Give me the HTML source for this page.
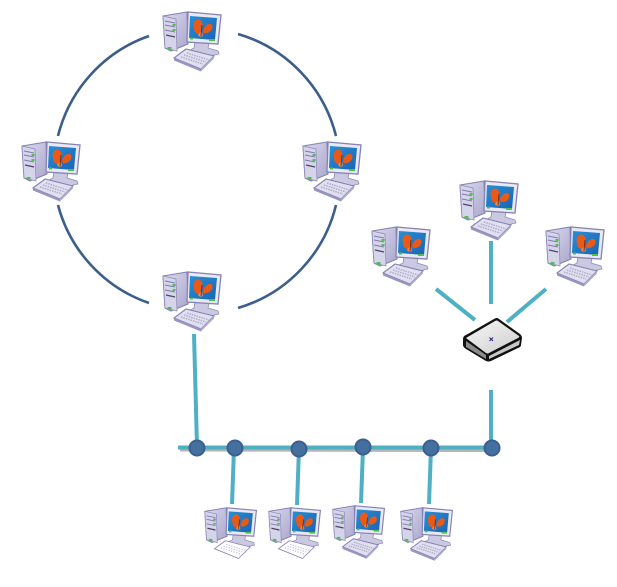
<!DOCTYPE html>
<html><head><meta charset="utf-8"><style>html,body{margin:0;padding:0;background:#fff}svg{display:block}</style></head><body>
<svg width="617" height="587" viewBox="0 0 617 587" xmlns="http://www.w3.org/2000/svg">
<defs>
<filter id="s" x="-5%" y="-5%" width="110%" height="110%"><feGaussianBlur stdDeviation=".35"/></filter>
<linearGradient id="tw" x1="0" y1="0" x2="1" y2="1"><stop offset="0" stop-color="#dcdaee"/><stop offset="1" stop-color="#a9a6cc"/></linearGradient>
<linearGradient id="sc" x1="0" y1="0" x2="1" y2="1"><stop offset="0" stop-color="#2a8fd6"/><stop offset="1" stop-color="#1a64b4"/></linearGradient>
<linearGradient id="rt" x1="0" y1="0" x2="1" y2="1"><stop offset="0" stop-color="#f6f6f6"/><stop offset="1" stop-color="#cfcfcf"/></linearGradient>
<g id="base">
<path d="M2 6 L26 2 L27 34 L10 41 L4 38 Z" fill="url(#tw)" stroke="#8582b2" stroke-width="1.1"/>
<path d="M2 6 L15 9 L16 41 L4 38 Z" fill="#d6d4ea" stroke="#8f8cb8" stroke-width=".8"/>
<path d="M4 11 L14 13 M4 15 L14 17 M4 20 L14 22" stroke="#7d7ba8" stroke-width="1"/>
<path d="M5 25 L14 27" stroke="#4a4866" stroke-width="1.4"/>
<rect x="6.500" y="37" width="4" height="2.500" fill="#4fc04f"/>
<rect x="11.500" y="14" width="3" height="2" fill="#4fc04f"/>
<rect x="11.500" y="19" width="3" height="2" fill="#4fc04f"/>
<path d="M34 32 L33 38 L27 41 L44 47 L58 44 L57 41 L47 38 L48 33 Z" fill="#cbc9e2" stroke="#8f8cb8" stroke-width=".8"/>
<path d="M27 2 L60 5 L57 34 L26 32 Z" fill="#e9e8f5" stroke="#8583b2" stroke-width="1.3"/>
<path d="M29 6 L56 8 L54 30 L28 28 Z" fill="url(#sc)"/>
<path d="M41 22 C37 26 33 23 33 18 C31 12 36 8 39 10 C42 12 42 16 41 19 Z" fill="#ea5a18"/>
<path d="M42 21 C43 15 49 12 51 15 C53 19 48 24 43 23 Z" fill="#ea5a18"/>
<path d="M37 25 C38 23 40 22 41 21 L42 26 C40 27 38 27 37 25 Z" fill="#f08a4a"/>
<path d="M41 15 L40 26" stroke="#7d2c10" stroke-width="1"/>
<rect x="29" y="27.500" width="3" height="2" fill="#4fc04f"/><rect x="48" y="29" width="6" height="2" fill="#4fc04f"/>
</g>
<g id="pc">
<use href="#base"/>
<path d="M13 48 L25 39 L53 46 L40 59 Z" fill="#e2e0f0" stroke="#8582b2" stroke-width="1.1"/>
<path d="M13 48 L40 59 L40 61.500 L13 50.500 Z" fill="#9895c0"/>
<path d="M53 46 L40 59 L40 61.500 L53 48.500 Z" fill="#b0aed0"/>
<path d="M20 47 L42 54 M23 45 L45 52 M26 43 L48 50" stroke="#aeacca" stroke-width="1.5" stroke-dasharray="1.5 1"/>
</g>
<g id="pc2">
<use href="#base"/>
<path d="M13 48 L25 39 L53 46 L40 59 Z" fill="#fff" stroke="#8f8cb8" stroke-width="1"/>
<path d="M20 47 L42 54 M23 45 L45 52 M26 43 L48 50" stroke="#c6c4dc" stroke-width="1.3" stroke-dasharray="1.5 1.5"/>
</g>
</defs>

<g fill="none" stroke="#3b5e8c" stroke-width="2.6">
<path d="M149 36 A142 142 0 0 0 58 136"/>
<path d="M238 34 A142 142 0 0 1 336 136"/>
<path d="M58 205 A142 142 0 0 0 149 303"/>
<path d="M336 205 A142 142 0 0 1 238 308"/>
</g>

<path d="M180 449.500 L491 450" stroke="#b5b5b5" stroke-width="4" fill="none"/>
<g fill="none" stroke="#4fb0c4" stroke-width="4">
<path d="M178 447.500 L491 447.500"/>
<path d="M194 334 L197 447"/>
<path d="M491 390 L491 447"/>
<path d="M491 241 L491 304"/>
<path d="M436 289 L475 320"/>
<path d="M546 289 L507 322"/>
<path d="M234 448 L232 504"/>
<path d="M299 448 L297 505"/>
<path d="M363 448 L361 503"/>
<path d="M431 448 L429 504"/>
</g>
<g fill="#44709f" stroke="#3a5f90" stroke-width="2">
<circle cx="197" cy="448" r="7.500"/><circle cx="235" cy="448" r="7.500"/><circle cx="299" cy="449" r="7.500"/><circle cx="363" cy="447" r="7.500"/><circle cx="431" cy="448" r="7.500"/><circle cx="492" cy="448" r="7.500"/>
</g>

<g filter="url(#s)">
<use href="#pc" x="161" y="10"/>
<use href="#pc" x="20" y="140"/>
<use href="#pc" x="301" y="140"/>
<use href="#pc" x="161" y="270"/>
<use href="#pc" x="370" y="225"/>
<use href="#pc" x="458" y="179"/>
<use href="#pc" x="544" y="225"/>
<use href="#pc2" transform="translate(203 506) scale(.89)"/>
<use href="#pc2" transform="translate(267 506) scale(.89)"/>
<use href="#pc" transform="translate(331 504) scale(.89)"/>
<use href="#pc" transform="translate(399 506) scale(.89)"/>
</g>

<path d="M463 339 Q463 336 466 335 L494 319 Q497 317 499 319 L520 334 Q522 336 522 338 L521 345 Q521 347 518 348 L491 361 Q488 362 486 361 L466 349 Q463 347 463 345 Z" fill="#111"/>
<path d="M466 338 L495 321 Q497 320 498 321 L519 336 Q520 337 518 338 L489 353 Q488 354 486 353 Z" fill="url(#rt)"/>
<path d="M466 341 L486 355 L486 359 L466 347 Z" fill="#8a8a8a"/>
<path d="M489 356 L520 340 L519 345 L489 359 Z" fill="#c8c8c8"/>
<path d="M489.500 337.500 L493 341 M493 337.500 L489.500 341" stroke="#26267a" stroke-width="1"/>
</svg>
</body></html>
